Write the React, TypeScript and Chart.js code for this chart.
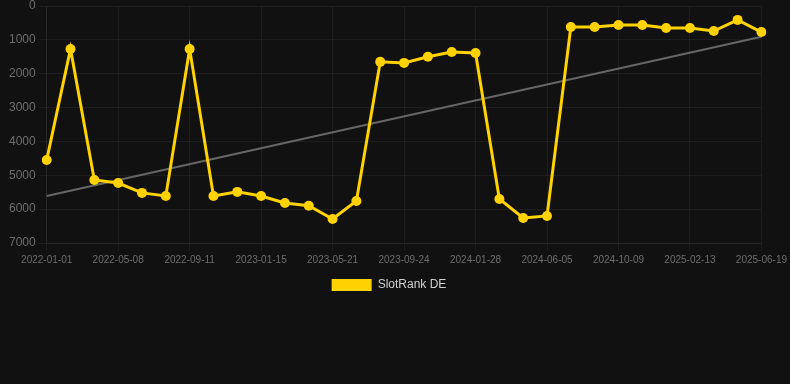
import React, { useEffect, useRef } from "react";
import { Chart, registerables } from "chart.js";
Chart.register(...registerables);

const dates = [
  "2022-01-01", "2022-02-12", "2022-03-26", "2022-05-08", "2022-06-19", "2022-07-31",
  "2022-09-11", "2022-10-23", "2022-12-04", "2023-01-15", "2023-02-26", "2023-04-09",
  "2023-05-21", "2023-07-02", "2023-08-13", "2023-09-24", "2023-11-05", "2023-12-17",
  "2024-01-28", "2024-03-10", "2024-04-23", "2024-06-05", "2024-07-17", "2024-08-28",
  "2024-10-09", "2024-11-20", "2025-01-01", "2025-02-13", "2025-03-27", "2025-05-08",
  "2025-06-19",
];
const rankDE = [
  4550, 1270, 5140, 5230, 5520, 5610, 1270, 5610, 5490, 5610, 5820, 5900,
  6290, 5760, 1650, 1680, 1500, 1360, 1390, 5700, 6260, 6200, 620, 620,
  560, 560, 650, 650, 740, 410, 770,
];
const trendStart = 5610;
const trendEnd = 910;

export default function App() {
  const ref = useRef<HTMLCanvasElement | null>(null);
  useEffect(() => {
    if (!ref.current) return;
    const trend = dates.map((_, i) => (i === 0 ? trendStart : i === dates.length - 1 ? trendEnd : null));
    const chart = new Chart(ref.current, {
      type: "line",
      data: {
        labels: dates,
        datasets: [
          {
            label: "SlotRank DE",
            data: rankDE,
            borderColor: "#FFD200",
            backgroundColor: "#FFD200",
            borderWidth: 3,
            pointRadius: 5,
            pointHoverRadius: 5,
            pointBorderWidth: 0,
            tension: 0,
          },
          {
            label: "trend",
            data: trend as any,
            borderColor: "#666666",
            borderWidth: 2,
            pointRadius: 0,
            spanGaps: true,
          },
        ],
      },
      options: {
        animation: false,
        responsive: false,
        maintainAspectRatio: false,
        layout: { padding: { left: 6, right: 18, top: 0 } },
        scales: {
          x: {
            grid: {
              color: (ctx: any) => (ctx.index % 3 === 0 ? "rgba(255,255,255,0.05)" : "rgba(0,0,0,0)"),
            },
            border: { color: "rgba(255,255,255,0.05)" },
            ticks: { color: "#6e6e6e", font: { size: 10, family: "Liberation Sans, Arial" }, maxRotation: 0, autoSkip: false,
              callback: function (this: any, v: any, i: number) { return i % 3 === 0 ? dates[i] : ""; } },
          },
          y: {
            reverse: true,
            min: 0,
            max: 7000,
            grid: { color: "rgba(255,255,255,0.05)" },
            border: { color: "rgba(255,255,255,0.05)" },
            ticks: { stepSize: 1000, color: "#6e6e6e", font: { size: 12, family: "Liberation Sans, Arial", lineHeight: 0.5 },
              callback: (v: any) => String(v) },
          },
        },
        plugins: {
          legend: {
            position: "bottom",
            labels: {
              color: "#d0d0d0",
              font: { size: 12, family: "Liberation Sans, Arial" },
              boxWidth: 40,
              boxHeight: 12,
              generateLabels: (c: any) => [{
                text: "SlotRank DE", fillStyle: "#FFD200", strokeStyle: "#FFD200", lineWidth: 0,
                hidden: false, datasetIndex: 0, fontColor: "#d0d0d0",
              }],
            },
          },
          tooltip: { enabled: false },
        },
      },
    });
    return () => chart.destroy();
  }, []);
  return (
    <div style={{ position: "fixed", left: 0, top: 0, width: 790, height: 384, background: "#111111" }}>
      <canvas ref={ref} width={790} height={301} style={{ display: "block" }} />
    </div>
  );
}
